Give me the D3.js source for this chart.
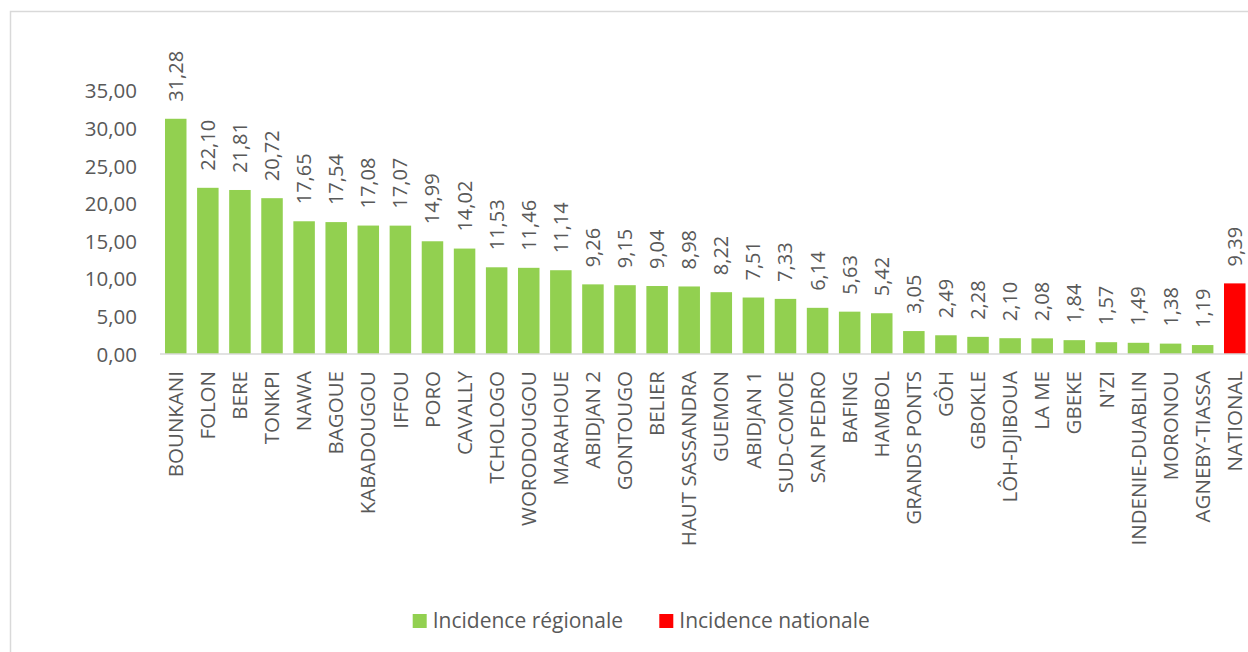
<!DOCTYPE html>
<html>
<head>
<meta charset="utf-8">
<script src="https://cdn.jsdelivr.net/npm/d3@7"></script>
<style>
  html, body { margin: 0; padding: 0; background: #fff; }
  svg { display: block; }
  text { font-family: "Open Sans", "Liberation Sans", sans-serif; fill: #595959; }
</style>
</head>
<body>
<svg id="chart" width="1248" height="652"></svg>
<script>
const categories = ["BOUNKANI","FOLON","BERE","TONKPI","NAWA","BAGOUE","KABADOUGOU","IFFOU","PORO","CAVALLY","TCHOLOGO","WORODOUGOU","MARAHOUE","ABIDJAN 2","GONTOUGO","BELIER","HAUT SASSANDRA","GUEMON","ABIDJAN 1","SUD-COMOE","SAN PEDRO","BAFING","HAMBOL","GRANDS PONTS","GÔH","GBOKLE","LÔH-DJIBOUA","LA ME","GBEKE","N'ZI","INDENIE-DUABLIN","MORONOU","AGNEBY-TIASSA","NATIONAL"];
const values = [31.28,22.10,21.81,20.72,17.65,17.54,17.08,17.07,14.99,14.02,11.53,11.46,11.14,9.26,9.15,9.04,8.98,8.22,7.51,7.33,6.14,5.63,5.42,3.05,2.49,2.28,2.10,2.08,1.84,1.57,1.49,1.38,1.19,9.39];
const seriesType = ["regional","regional","regional","regional","regional","regional","regional","regional","regional","regional","regional","regional","regional","regional","regional","regional","regional","regional","regional","regional","regional","regional","regional","regional","regional","regional","regional","regional","regional","regional","regional","regional","regional","national"];
const yTicks = [0,5,10,15,20,25,30,35];
const legendLabels = ["Incidence régionale","Incidence nationale"];
const legendKeys = ["regional","national"];

const colors = { regional: "#92D050", national: "#FF0000" };
const fmt = v => d3.format(".2f")(v).replace(".", ",");

const svg = d3.select("#chart");

// outer border
svg.append("rect")
  .attr("x", 10.5).attr("y", 11.5)
  .attr("width", 1400).attr("height", 800)
  .attr("fill", "none").attr("stroke", "#d9d9d9").attr("stroke-width", 1.5);

const data = categories.map((c, i) => ({ cat: c, val: values[i], type: seriesType[i] }));

const x = d3.scaleBand().domain(categories).range([159.7, 1250.8]).paddingInner(0.33).paddingOuter(0.165);
const y = d3.scaleLinear().domain([0, 35]).range([354, 90.8]);

// y tick labels
const yAxis = d3.axisLeft(y).tickValues(yTicks).tickFormat(fmt).tickSize(0).tickPadding(0);
const gy = svg.append("g").attr("transform", "translate(137,0)").call(yAxis);
gy.select(".domain").remove();
gy.selectAll("text").attr("font-size", 20.5).attr("fill", "#595959")
  .style("font-family", "'Open Sans', sans-serif").attr("dy", "0.35em").attr("x", 0);

// bars
svg.append("g").selectAll("rect").data(data).join("rect")
  .attr("x", d => x(d.cat))
  .attr("y", d => y(d.val))
  .attr("width", x.bandwidth())
  .attr("height", d => y(0) - y(d.val))
  .attr("fill", d => colors[d.type]);

// x axis line
const xAxis = d3.axisBottom(x).tickSize(0).tickPadding(0);
const gx = svg.append("g").attr("transform", `translate(0,${y(0)})`).call(xAxis);
gx.select(".domain").attr("stroke", "#d9d9d9").attr("stroke-width", 1.5)
  .attr("d", `M160,0H1248`);
gx.selectAll(".tick text")
  .attr("font-size", 20.5).attr("fill", "#595959")
  .style("font-family", "'Open Sans', sans-serif")
  .attr("text-anchor", "end")
  .attr("transform", "translate(0,17) rotate(-90)")
  .attr("x", 0).attr("y", 0).attr("dy", "0.35em");

// value labels
svg.append("g").selectAll("text").data(data).join("text")
  .attr("transform", d => `translate(${x(d.cat) + x.bandwidth() / 2},${y(d.val) - 17}) rotate(-90)`)
  .attr("text-anchor", "start")
  .attr("dy", "0.35em")
  .attr("font-size", 20)
  .text(d => fmt(d.val));

// legend
const legend = svg.append("g");
const lx = [412.7, 659.3];
legendKeys.forEach((k, i) => {
  const g = legend.append("g").attr("transform", `translate(${lx[i]},614)`);
  g.append("rect").attr("width", 14).attr("height", 14).attr("fill", colors[k]);
  g.append("text").attr("x", 20).attr("y", 7).attr("dy", "0.35em")
    .attr("font-size", 21).text(legendLabels[i]);
});
</script>
</body>
</html>
